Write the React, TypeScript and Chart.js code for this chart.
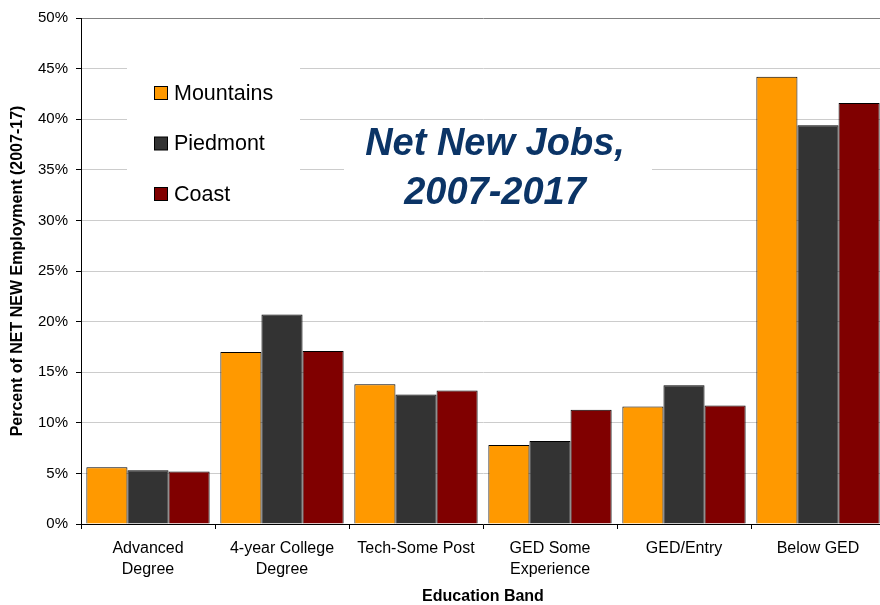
import React, { useEffect, useRef } from "react";
import { Chart, registerables } from "chart.js";

Chart.register(...registerables);

const FONT = "'Liberation Sans', Arial, Helvetica, sans-serif";

const categories: string[][] = [
  ["Advanced", "Degree"],
  ["4-year College", "Degree"],
  ["Tech-Some Post"],
  ["GED Some", "Experience"],
  ["GED/Entry"],
  ["Below GED"],
];
const seriesNames = ["Mountains", "Piedmont", "Coast"];
const mountains = [5.6, 17.0, 13.8, 7.8, 11.6, 44.2];
const piedmont = [5.3, 20.7, 12.8, 8.2, 13.7, 39.4];
const coast = [5.2, 17.1, 13.2, 11.3, 11.7, 41.6];
const seriesColors = ["#FF9900", "#333333", "#800000"];
const titleLines = ["Net New Jobs,", "2007-2017"];
const yAxisTitle = "Percent of NET NEW Employment (2007-17)";
const xAxisTitle = "Education Band";

const overlayPlugin = {
  id: "overlay",
  beforeDatasetsDraw(chart: any) {
    const ctx = chart.ctx;
    ctx.save();
    // legend box
    ctx.fillStyle = "#ffffff";
    ctx.fillRect(127, 55, 173, 160);
    chart.data.datasets.forEach((ds: any, i: number) => {
      const cy = 93 + i * 50.5;
      ctx.fillStyle = ds.backgroundColor;
      ctx.fillRect(154.5, cy - 6.5, 13, 13);
      ctx.strokeStyle = "#000";
      ctx.lineWidth = 1;
      ctx.strokeRect(154.5, cy - 6.5, 13, 13);
      ctx.fillStyle = "#000";
      ctx.font = `21.5px ${FONT}`;
      ctx.textBaseline = "middle";
      ctx.textAlign = "left";
      ctx.fillText(ds.label, 174, cy + 1);
    });
    // title box
    ctx.fillStyle = "#ffffff";
    ctx.fillRect(344, 123, 308, 94);
    ctx.fillStyle = "#0B3466";
    ctx.font = `italic bold 38px ${FONT}`;
    ctx.textAlign = "center";
    ctx.textBaseline = "middle";
    titleLines.forEach((t, i) => ctx.fillText(t, 495, 145 + i * 49));
    ctx.restore();
  },
};

export default function App() {
  const ref = useRef<HTMLCanvasElement>(null);
  useEffect(() => {
    if (!ref.current) return;
    const chart = new Chart(ref.current, {
      type: "bar",
      data: {
        labels: categories,
        datasets: [mountains, piedmont, coast].map((d, i) => ({
          label: seriesNames[i],
          data: d,
          backgroundColor: seriesColors[i],
          borderColor: "#000000",
          borderWidth: 1,
          categoryPercentage: 0.92,
          barPercentage: 1.0,
        })),
      },
      options: {
        responsive: false,
        animation: false,
        devicePixelRatio: 1,
        layout: { padding: { top: 18, right: 5, left: 0, bottom: 0 } },
        plugins: {
          legend: { display: false },
          tooltip: { enabled: false },
          title: { display: false },
        },
        scales: {
          x: {
            grid: {
              display: true,
              drawOnChartArea: false,
              drawTicks: true,
              tickLength: 5,
              tickColor: "#000",
              offset: true,
            },
            border: { display: true, color: "#000", width: 1 },
            ticks: {
              color: "#000",
              font: { family: FONT, size: 16, lineHeight: 1.3 },
              padding: 9,
              maxRotation: 0,
              autoSkip: false,
            },
            title: {
              display: true,
              text: xAxisTitle,
              color: "#000",
              font: { family: FONT, size: 16, weight: "bold", lineHeight: 1 },
              padding: { top: 0, bottom: 0 },
            },
            afterFit(s: any) {
              s.height = 81;
            },
          },
          y: {
            min: 0,
            max: 50,
            ticks: {
              stepSize: 5,
              color: "#000",
              font: { family: FONT, size: 15 },
              padding: 8,
              callback: (v: any) => `${v}%`,
            },
            grid: {
              color: (c: any) => (c.tick && c.tick.value === 50 ? "#808080" : "#cccccc"),
              lineWidth: 1,
              tickLength: 5,
              tickColor: "#000",
            },
            border: { display: true, color: "#000", width: 1 },
            title: {
              display: true,
              text: yAxisTitle,
              color: "#000",
              font: { family: FONT, size: 16, weight: "bold", lineHeight: 1.2 },
              padding: { top: 8, bottom: 0 },
            },
            afterFit(s: any) {
              s.width = 81;
            },
          },
        },
      },
      plugins: [overlayPlugin],
    });
    return () => chart.destroy();
  }, []);
  return (
    <div
      style={{
        position: "fixed",
        left: 0,
        top: 0,
        width: 880,
        height: 605,
        overflow: "hidden",
        background: "#fff",
      }}
    >
      <canvas ref={ref} width={890} height={605} style={{ display: "block", width: 890, height: 605 }} />
    </div>
  );
}
